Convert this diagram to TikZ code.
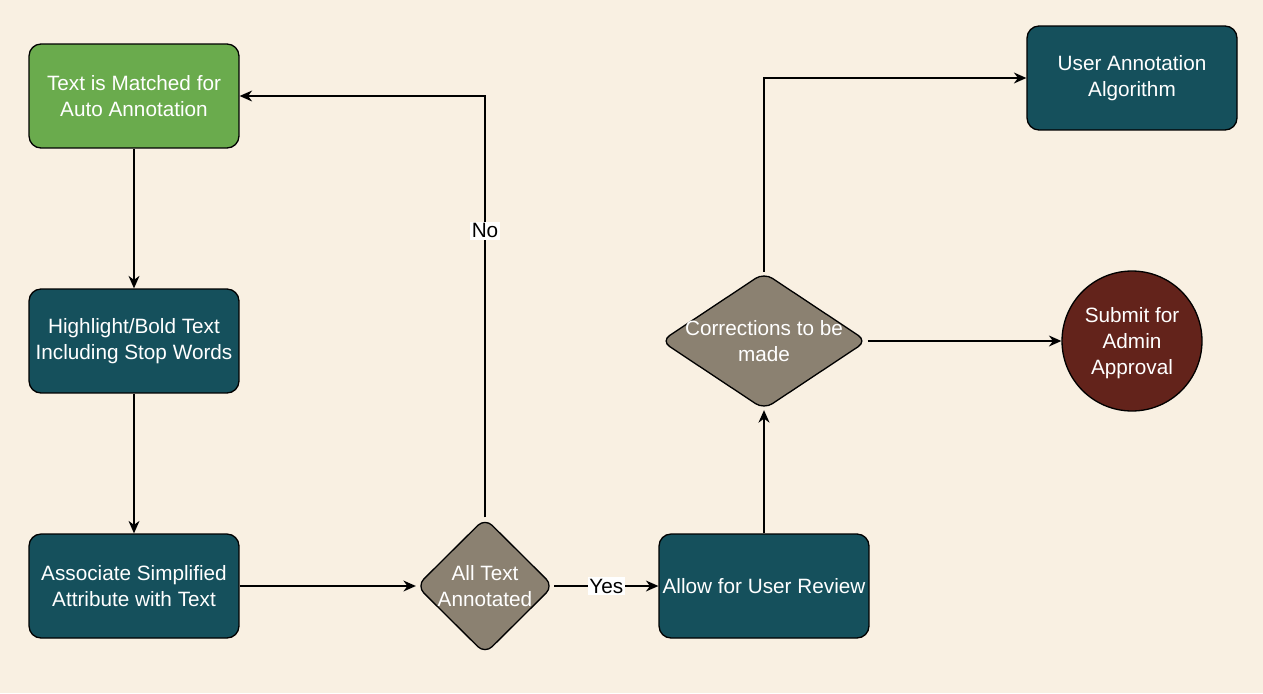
\documentclass[tikz,border=0pt]{standalone}
\usepackage{fontspec}
\setmainfont{Liberation Sans}
\usetikzlibrary{shapes.geometric,arrows.meta}
\definecolor{bgcream}{HTML}{F9F0E2}
\definecolor{boxgreen}{HTML}{6AAB4D}
\definecolor{boxteal}{HTML}{15505C}
\definecolor{decgrey}{HTML}{8B8171}
\definecolor{endred}{HTML}{63231B}
\begin{document}
\begin{tikzpicture}[x=0.02cm,y=-0.02cm,>={Stealth[length=0.25cm,width=0.22cm]},
  every node/.style={font=\fontsize{11.8}{14.8}\selectfont},
  step box/.style={draw,line width=0.75pt,rounded corners=0.24cm,minimum width=4.2cm,minimum height=2.08cm,inner xsep=1pt,align=center,text=white,fill=boxteal},
  dec box/.style={draw,line width=0.75pt,diamond,rounded corners=0.2cm,inner sep=0pt,fill=decgrey},
  dec text/.style={align=center,text=white},
  flow/.style={->,line width=0.8pt},
  edge lbl/.style={fill=white,inner sep=1pt,text=black}]
\fill[bgcream] (0,0) rectangle (1263,693);
\useasboundingbox (0,0) rectangle (1263,693);
\node[step box,fill=boxgreen] (A) at (134,96) {Text is Matched for\\Auto Annotation};
\node[step box] (B) at (134,341) {Highlight/Bold Text\\Including Stop Words};
\node[step box] (C) at (134,586) {Associate Simplified\\Attribute with Text};
\node[dec box,minimum width=2.74cm,minimum height=2.72cm,label={[dec text]center:All Text\\Annotated}] (D) at (485,586) {};
\node[step box] (E) at (764,586) {Allow for User Review};
\node[dec box,minimum width=4.12cm,minimum height=2.74cm,label={[dec text]center:Corrections to be\\made}] (K) at (764,341) {};
\node[draw,line width=0.75pt,circle,fill=endred,minimum size=2.8cm,label={[dec text,yshift=-0.04cm]center:Submit for\\Admin\\Approval}] (S) at (1132,341) {};
\node[step box] (U) at (1132,78) {User Annotation\\Algorithm};
\draw[flow] (A)--(B);
\draw[flow] (B)--(C);
\draw[flow] (C.east)--(D.west);
\draw[flow] (D.east)--node[edge lbl] {Yes}(E.west);
\draw[flow] (D.north) |- node[edge lbl,pos=0.34] {No}(A.east);
\draw[flow] (E.north)--(K.south);
\draw[flow] (K.north) |- (U.west);
\draw[flow] (K.east)--(S.west);
\end{tikzpicture}
\end{document}
